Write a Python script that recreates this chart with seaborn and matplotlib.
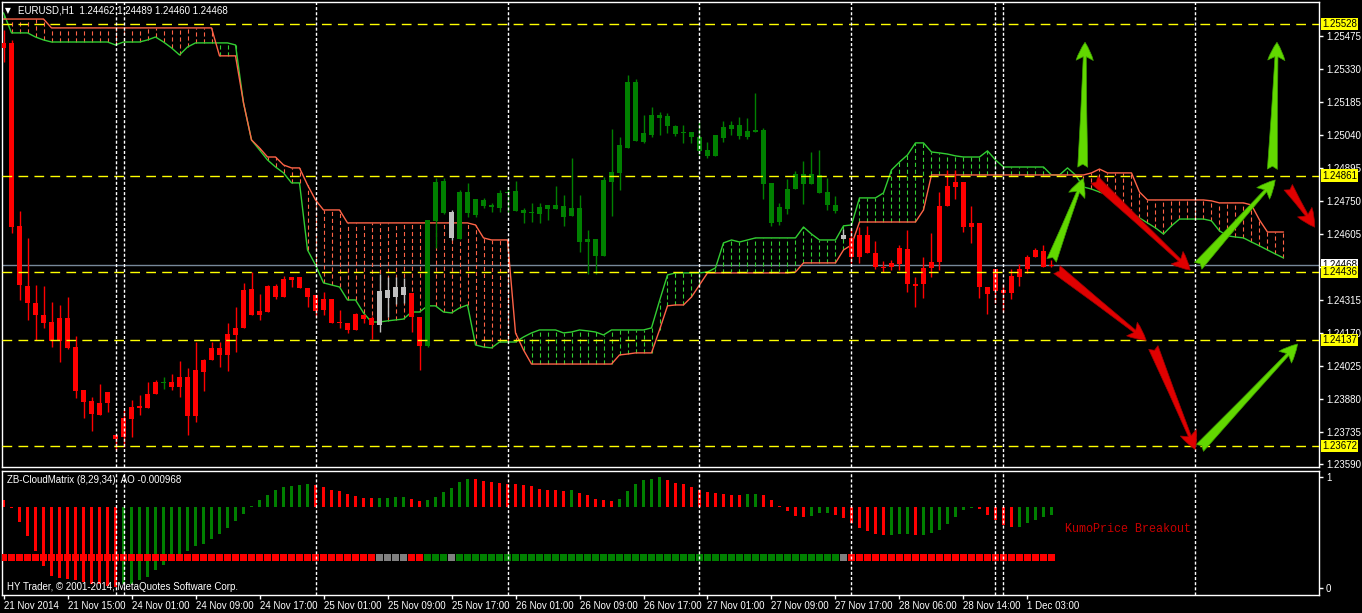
import numpy as np
import pandas as pd
import seaborn as sns
import matplotlib.pyplot as plt
from matplotlib.patches import FancyArrowPatch

# EURUSD H1 candles, bar 0 = leftmost bar
open_ = [1.25445, 1.25445, 1.24640, 1.24376, 1.24301, 1.24248, 1.24217, 1.24134, 1.24235, 1.24107,
         1.23918, 1.23870, 1.23808, 1.23861, 1.23720, 1.23711, 1.23790, 1.23839, 1.23839, 1.23900,
         1.23949, 1.23953, 1.23931, 1.23975, 1.23804, 1.23997, 1.24050, 1.24103, 1.24072, 1.24160,
         1.24191, 1.24362, 1.24248, 1.24261, 1.24376, 1.24327, 1.24402, 1.24415, 1.24367, 1.24336,
         1.24270, 1.24318, 1.24213, 1.24213, 1.24182, 1.24248, 1.24235, 1.24204, 1.24358, 1.24327,
         1.24371, 1.24345, 1.24239, 1.24112, 1.24662, 1.24838, 1.24701, 1.24582, 1.24789, 1.24688,
         1.24754, 1.24732, 1.24719, 1.24785, 1.24794, 1.24710, 1.24697, 1.24692, 1.24732, 1.24714,
         1.24728, 1.24684, 1.24719, 1.24569, 1.24582, 1.24508, 1.24833, 1.24873, 1.24983, 1.25273,
         1.25009, 1.25040, 1.25128, 1.25124, 1.25080, 1.25049, 1.25053, 1.25031, 1.24974, 1.24948,
         1.25027, 1.25066, 1.25084, 1.25031, 1.25053, 1.25062, 1.24829, 1.24657, 1.24714, 1.24802,
         1.24868, 1.24824, 1.24864, 1.24789, 1.24732, 1.24600, 1.24587, 1.24503, 1.24600, 1.24521,
         1.24459, 1.24459, 1.24472, 1.24538, 1.24384, 1.24384, 1.24455, 1.24481, 1.24728, 1.24811,
         1.24833, 1.24635, 1.24653, 1.24371, 1.24354, 1.24358, 1.24345, 1.24415, 1.24450, 1.24503,
         1.24530, 1.24462]
high = [1.25502, 1.25458, 1.24706, 1.24587, 1.24380, 1.24376, 1.24305, 1.24292, 1.24327, 1.24156,
        1.23918, 1.23887, 1.23944, 1.23909, 1.23720, 1.23830, 1.23874, 1.23896, 1.23953, 1.23962,
        1.23975, 1.23988, 1.24046, 1.24015, 1.24129, 1.24054, 1.24129, 1.24129, 1.24213, 1.24283,
        1.24389, 1.24437, 1.24340, 1.24380, 1.24384, 1.24420, 1.24415, 1.24415, 1.24367, 1.24336,
        1.24349, 1.24318, 1.24270, 1.24213, 1.24257, 1.24252, 1.24244, 1.24428, 1.24415, 1.24415,
        1.24411, 1.24345, 1.24239, 1.24666, 1.24851, 1.24851, 1.24710, 1.24798, 1.24829, 1.24758,
        1.24763, 1.24741, 1.24798, 1.24811, 1.24838, 1.24719, 1.24741, 1.24741, 1.24732, 1.24816,
        1.24776, 1.24939, 1.24776, 1.24622, 1.24582, 1.24855, 1.25066, 1.25031, 1.25304, 1.25286,
        1.25128, 1.25163, 1.25141, 1.25137, 1.25084, 1.25084, 1.25053, 1.25097, 1.25009, 1.25040,
        1.25102, 1.25102, 1.25119, 1.25115, 1.25225, 1.25071, 1.24829, 1.24741, 1.24846, 1.24882,
        1.24926, 1.24965, 1.24974, 1.24851, 1.24772, 1.24626, 1.24631, 1.24635, 1.24640, 1.24574,
        1.24486, 1.24490, 1.24556, 1.24622, 1.24415, 1.24503, 1.24609, 1.24789, 1.24886, 1.24886,
        1.24833, 1.24728, 1.24653, 1.24371, 1.24450, 1.24384, 1.24450, 1.24472, 1.24512, 1.24543,
        1.24556, 1.24489]
low = [1.25361, 1.24609, 1.24314, 1.24226, 1.24138, 1.24191, 1.24107, 1.24041, 1.24098, 1.23883,
       1.23795, 1.23738, 1.23808, 1.23821, 1.23654, 1.23667, 1.23711, 1.23808, 1.23839, 1.23900,
       1.23922, 1.23918, 1.23887, 1.23720, 1.23777, 1.23914, 1.24050, 1.24019, 1.24002, 1.24085,
       1.24191, 1.24248, 1.24226, 1.24261, 1.24318, 1.24327, 1.24371, 1.24367, 1.24283, 1.24239,
       1.24248, 1.24213, 1.24191, 1.24169, 1.24182, 1.24213, 1.24142, 1.24173, 1.24239, 1.24296,
       1.24301, 1.24173, 1.24006, 1.24107, 1.24543, 1.24692, 1.24578, 1.24582, 1.24679, 1.24679,
       1.24719, 1.24701, 1.24701, 1.24701, 1.24706, 1.24653, 1.24657, 1.24653, 1.24666, 1.24714,
       1.24640, 1.24684, 1.24525, 1.24428, 1.24428, 1.24508, 1.24684, 1.24798, 1.24983, 1.25014,
       1.25005, 1.25031, 1.25040, 1.25049, 1.25036, 1.25005, 1.25005, 1.24952, 1.24939, 1.24948,
       1.25009, 1.25040, 1.25022, 1.25022, 1.25053, 1.24758, 1.24640, 1.24644, 1.24692, 1.24802,
       1.24736, 1.24824, 1.24785, 1.24710, 1.24697, 1.24582, 1.24477, 1.24477, 1.24521, 1.24450,
       1.24437, 1.24446, 1.24446, 1.24349, 1.24283, 1.24323, 1.24415, 1.24446, 1.24728, 1.24758,
       1.24613, 1.24565, 1.24323, 1.24252, 1.24301, 1.24261, 1.24318, 1.24376, 1.24433, 1.24503,
       1.24459, 1.24460]
close = [1.25423, 1.24635, 1.24380, 1.24301, 1.24248, 1.24213, 1.24134, 1.24235, 1.24103, 1.23914,
         1.23865, 1.23812, 1.23861, 1.23909, 1.23702, 1.23795, 1.23843, 1.23848, 1.23900, 1.23953,
         1.23953, 1.23931, 1.23975, 1.23804, 1.24006, 1.24050, 1.24103, 1.24072, 1.24164, 1.24191,
         1.24358, 1.24248, 1.24266, 1.24376, 1.24327, 1.24406, 1.24415, 1.24367, 1.24327, 1.24266,
         1.24318, 1.24213, 1.24217, 1.24182, 1.24252, 1.24230, 1.24204, 1.24354, 1.24323, 1.24371,
         1.24336, 1.24239, 1.24112, 1.24666, 1.24833, 1.24697, 1.24587, 1.24789, 1.24697, 1.24758,
         1.24728, 1.24723, 1.24785, 1.24789, 1.24706, 1.24697, 1.24701, 1.24723, 1.24714, 1.24732,
         1.24679, 1.24719, 1.24569, 1.24582, 1.24508, 1.24842, 1.24877, 1.24996, 1.25273, 1.25014,
         1.25049, 1.25128, 1.25115, 1.25080, 1.25044, 1.25053, 1.25031, 1.24970, 1.24948, 1.25040,
         1.25075, 1.25084, 1.25036, 1.25058, 1.25062, 1.24824, 1.24653, 1.24723, 1.24802, 1.24868,
         1.24824, 1.24868, 1.24785, 1.24732, 1.24706, 1.24582, 1.24503, 1.24600, 1.24521, 1.24459,
         1.24455, 1.24477, 1.24543, 1.24384, 1.24376, 1.24455, 1.24481, 1.24728, 1.24816, 1.24833,
         1.24635, 1.24653, 1.24371, 1.24340, 1.24450, 1.24345, 1.24420, 1.24450, 1.24503, 1.24534,
         1.24459, 1.24468]

# CloudMatrix state per bar: r = bear, g = bull, n = neutral
state = ("rrrrrrrrrr" "rrrrrrrrrr" "rrrrrrrrrr" "rrrrrrrrrr" "rrrrrrrnnn"
         "nrrgggnggg" "gggggggggg" "gggggggggg" "gggggggggg" "gggggggggg"
         "gggggnrrrr" "rrrrrrrrrr" "rrrrrrrrrr" "rr")
candle_state = state[:20] + "g" + state[21:]

# Kumo (senkou span A / B), runs 29 bars past the last candle
span_a = [1.25577, 1.25489, 1.25489, 1.25489, 1.25471, 1.25458, 1.25449, 1.25449, 1.25449, 1.25449,
          1.25449, 1.25449, 1.25449, 1.25449, 1.25436, 1.25449, 1.25449, 1.25449, 1.25458, 1.25471,
          1.25449, 1.25423, 1.25392, 1.25427, 1.25445, 1.25445, 1.25445, 1.25445, 1.25445, 1.25436,
          1.25181, 1.25018, 1.24974, 1.24930, 1.24899, 1.24873, 1.24829, 1.24829, 1.24534, 1.24468,
          1.24389, 1.24380, 1.24371, 1.24314, 1.24314, 1.24257, 1.24217, 1.24217, 1.24222, 1.24226,
          1.24230, 1.24261, 1.24261, 1.24288, 1.24288, 1.24261, 1.24257, 1.24279, 1.24292, 1.24116,
          1.24107, 1.24103, 1.24129, 1.24129, 1.24129, 1.24151, 1.24169, 1.24182, 1.24182, 1.24182,
          1.24169, 1.24173, 1.24182, 1.24178, 1.24173, 1.24160, 1.24182, 1.24182, 1.24182, 1.24182,
          1.24182, 1.24191, 1.24310, 1.24424, 1.24433, 1.24433, 1.24433, 1.24433, 1.24437, 1.24455,
          1.24565, 1.24578, 1.24569, 1.24578, 1.24587, 1.24587, 1.24587, 1.24587, 1.24587, 1.24587,
          1.24635, 1.24604, 1.24578, 1.24578, 1.24578, 1.24640, 1.24644, 1.24763, 1.24763, 1.24763,
          1.24785, 1.24886, 1.24921, 1.24952, 1.25005, 1.25005, 1.24965, 1.24961, 1.24956, 1.24948,
          1.24943, 1.24943, 1.24943, 1.24970, 1.24930, 1.24899, 1.24899, 1.24899, 1.24899, 1.24899,
          1.24899, 1.24864, 1.24864, 1.24895, 1.24864, 1.24811, 1.24802, 1.24789, 1.24776, 1.24741,
          1.24710, 1.24697, 1.24675, 1.24653, 1.24631, 1.24604, 1.24640, 1.24670, 1.24670, 1.24670,
          1.24670, 1.24662, 1.24618, 1.24596, 1.24591, 1.24587, 1.24569, 1.24552, 1.24534, 1.24516,
          1.24499]
span_b = [1.25550, 1.25550, 1.25550, 1.25550, 1.25550, 1.25550, 1.25511, 1.25511, 1.25511, 1.25511,
          1.25511, 1.25511, 1.25511, 1.25511, 1.25511, 1.25511, 1.25511, 1.25511, 1.25511, 1.25511,
          1.25511, 1.25511, 1.25511, 1.25511, 1.25511, 1.25511, 1.25511, 1.25388, 1.25388, 1.25388,
          1.25181, 1.25018, 1.24983, 1.24943, 1.24943, 1.24908, 1.24895, 1.24895, 1.24820, 1.24754,
          1.24710, 1.24710, 1.24710, 1.24653, 1.24653, 1.24653, 1.24653, 1.24653, 1.24653, 1.24653,
          1.24653, 1.24653, 1.24653, 1.24653, 1.24653, 1.24653, 1.24653, 1.24653, 1.24653, 1.24644,
          1.24587, 1.24578, 1.24578, 1.24578, 1.24169, 1.24094, 1.24032, 1.24032, 1.24032, 1.24032,
          1.24032, 1.24032, 1.24032, 1.24032, 1.24032, 1.24032, 1.24032, 1.24072, 1.24076, 1.24081,
          1.24081, 1.24081, 1.24182, 1.24288, 1.24292, 1.24292, 1.24327, 1.24380, 1.24433, 1.24433,
          1.24433, 1.24433, 1.24433, 1.24433, 1.24433, 1.24433, 1.24433, 1.24433, 1.24433, 1.24437,
          1.24477, 1.24477, 1.24477, 1.24477, 1.24477, 1.24534, 1.24556, 1.24657, 1.24657, 1.24657,
          1.24657, 1.24657, 1.24657, 1.24657, 1.24657, 1.24710, 1.24864, 1.24864, 1.24864, 1.24864,
          1.24864, 1.24864, 1.24864, 1.24864, 1.24864, 1.24864, 1.24864, 1.24864, 1.24864, 1.24864,
          1.24864, 1.24864, 1.24864, 1.24864, 1.24864, 1.24864, 1.24873, 1.24890, 1.24873, 1.24873,
          1.24873, 1.24873, 1.24789, 1.24754, 1.24754, 1.24754, 1.24754, 1.24754, 1.24754, 1.24754,
          1.24754, 1.24750, 1.24741, 1.24741, 1.24741, 1.24741, 1.24732, 1.24666, 1.24613, 1.24613,
          1.24613]

# AO histogram of the ZB-CloudMatrix window and its bar colours
ao = [0.00077, -0.00012, -0.00174, -0.00341, -0.00511, -0.00685, -0.00801, -0.00824, -0.00840, -0.00851,
      -0.00871, -0.00890, -0.00898, -0.00917, -0.00929, -0.00898, -0.00890, -0.00851, -0.00813, -0.00735,
      -0.00670, -0.00608, -0.00542, -0.00511, -0.00457, -0.00433, -0.00375, -0.00310, -0.00244, -0.00163,
      -0.00085, 0.00008, 0.00077, 0.00143, 0.00194, 0.00232, 0.00244, 0.00259, 0.00263, 0.00252,
      0.00232, 0.00201, 0.00186, 0.00155, 0.00128, 0.00108, 0.00100, 0.00104, 0.00108, 0.00112,
      0.00116, 0.00097, 0.00070, 0.00085, 0.00116, 0.00174, 0.00221, 0.00290, 0.00329, 0.00321,
      0.00298, 0.00290, 0.00283, 0.00271, 0.00268, 0.00252, 0.00240, 0.00213, 0.00201, 0.00194,
      0.00182, 0.00194, 0.00166, 0.00135, 0.00089, 0.00077, 0.00066, 0.00097, 0.00182, 0.00271,
      0.00310, 0.00329, 0.00348, 0.00310, 0.00283, 0.00263, 0.00232, 0.00194, 0.00174, 0.00163,
      0.00147, 0.00145, 0.00135, 0.00147, 0.00155, 0.00135, 0.00077, 0.00008, -0.00046, -0.00104,
      -0.00116, -0.00104, -0.00070, -0.00068, -0.00097, -0.00128, -0.00186, -0.00244, -0.00279, -0.00310,
      -0.00329, -0.00321, -0.00310, -0.00308, -0.00329, -0.00325, -0.00302, -0.00271, -0.00194, -0.00116,
      -0.00039, -0.00012, -0.00023, -0.00097, -0.00155, -0.00213, -0.00232, -0.00228, -0.00186, -0.00155,
      -0.00116, -0.000968]
ao_state = ("rrrrrrrrrr" "rrrrrggggg" "gggggggggg" "gggggggggr" "rrrrrrrggg"
            "grrggggggr" "rrrrrrrrrr" "rgrrrrrggg" "gggrrrrrrr" "rrrggrrrrr"
            "rgggrrrrrr" "rgggrggggg" "ggrrrrrggg" "gg")

levels = [1.25528, 1.24861, 1.24436, 1.24137, 1.23672]
last_price = 1.24468
price_ticks = [1.25475, 1.25330, 1.25185, 1.25040, 1.24895, 1.24750, 1.24605,
               1.24460, 1.24315, 1.24170, 1.24025, 1.23880, 1.23735, 1.23590]
time_labels = ["21 Nov 2014", "21 Nov 15:00", "24 Nov 01:00", "24 Nov 09:00", "24 Nov 17:00",
               "25 Nov 01:00", "25 Nov 09:00", "25 Nov 17:00", "26 Nov 01:00", "26 Nov 09:00",
               "26 Nov 17:00", "27 Nov 01:00", "27 Nov 09:00", "27 Nov 17:00", "28 Nov 06:00",
               "28 Nov 14:00", "1 Dec 03:00"]
time_bars = list(range(0, 129, 8))
vline_bars = [14, 15, 39, 63, 87, 106, 124, 125, 149]

# hand drawn scenario arrows: (bar, price) tail -> tip
arrows_up = [((130.9, 1.24477), (135.1, 1.24860)), ((134.9, 1.24886), (135.2, 1.25460)),
             ((149.1, 1.24455), (159.2, 1.24851)), ((158.6, 1.24877), (159.2, 1.25460)),
             ((149.3, 1.23654), (162.0, 1.24129))]
arrows_down = [((136.1, 1.24851), (148.6, 1.24437)), ((131.4, 1.24455), (143.1, 1.24129)),
               ((143.6, 1.24116), (149.1, 1.23645)), ((160.4, 1.24820), (164.1, 1.24624))]

sns.set_theme(style="dark", rc={
    "figure.facecolor": "black", "axes.facecolor": "black", "axes.edgecolor": "white",
    "axes.grid": False, "text.color": "white", "xtick.color": "white", "ytick.color": "white",
    "lines.scale_dashes": False})
plt.rcParams['font.family'] = ['Liberation Sans', 'DejaVu Sans']

candle_cols = {'r': '#FF0000', 'g': '#008000', 'n': '#C0C0C0'}
square_cols = {'r': '#FF0000', 'g': '#008000', 'n': '#808080'}

df = pd.DataFrame({'open': open_, 'high': high, 'low': low, 'close': close})
df['bar'] = np.arange(len(df))
df['col'] = [candle_cols[s] for s in candle_state]
df['body_lo'] = df[['open', 'close']].min(axis=1)
df['body_h'] = (df['close'] - df['open']).abs().clip(lower=0.00004)

cloud = pd.DataFrame({'a': span_a, 'b': span_b})
cloud['bar'] = np.arange(len(cloud))
cloud['col'] = np.where(cloud['a'] > cloud['b'], '#32CD32', '#FF6347')

fig = plt.figure(figsize=(13.62, 6.13), dpi=100)
ax = fig.add_axes([2 / 1362, 1 - 467 / 613, 1317 / 1362, 465 / 613])
axh = fig.add_axes([2 / 1362, 18 / 613, 1317 / 1362, 124 / 613])   # AO histogram scale
axl = fig.add_axes([2 / 1362, 18 / 613, 1317 / 1362, 124 / 613])   # 0..1 window scale, on top
xlim = (-0.19, 164.44)

# ---- main price window
ax.axhline(last_price, color='#778899', lw=1, zorder=1)
ax.vlines(cloud['bar'], cloud[['a', 'b']].min(axis=1), cloud[['a', 'b']].max(axis=1),
          colors=cloud['col'], linestyles=(0, (3, 2)), lw=0.8, zorder=1)
sns.lineplot(x=cloud['bar'], y=cloud['a'], color='#32CD32', lw=1, estimator=None, ax=ax, zorder=2)
sns.lineplot(x=cloud['bar'], y=cloud['b'], color='#FF6347', lw=1, estimator=None, ax=ax, zorder=2)

ax.vlines(df['bar'], df['low'], df['high'], colors=df['col'], lw=1, zorder=3)
ax.bar(df['bar'], df['body_h'], bottom=df['body_lo'], width=0.6, color=df['col'], lw=0, zorder=3)

for lv in levels:
    ax.axhline(lv, color='#FFFF00', lw=1, ls=(0, (7, 4.5)), zorder=5)
for vb in vline_bars:
    ax.axvline(vb, color='white', lw=1, ls=(0, (2.2, 1.5)), zorder=6)
    axl.axvline(vb, color='white', lw=1, ls=(0, (2.2, 1.5)), zorder=6)

style = 'fancy,head_length=0.65,head_width=0.62,tail_width=0.36'
for tail, tip in arrows_up:
    ax.add_patch(FancyArrowPatch(tail, tip, arrowstyle=style, mutation_scale=20,
                                 fc='#62D800', ec='#3E9E00', lw=0.5, zorder=8))
for tail, tip in arrows_down:
    ax.add_patch(FancyArrowPatch(tail, tip, arrowstyle=style, mutation_scale=20,
                                 fc='#E00000', ec='#A00000', lw=0.5, zorder=8))

ax.set_xlim(xlim)
ax.set_ylim(1.23579, 1.25625)
ax.set_xticks([])
ax.set_yticks(price_ticks)
# the tick under the live price box is not labelled
ax.set_yticklabels(["" if p == 1.24460 else f"{p:.5f}" for p in price_ticks])
ax.yaxis.tick_right()
ax.tick_params(axis='y', right=True, left=False, length=3, width=1, pad=2, labelsize=7, colors='white')
ax.set_xlabel("")
ax.set_ylabel("")

ytr = ax.get_yaxis_transform()
ax.text(1.0025, last_price, f"{last_price:.5f}", transform=ytr, ha='left', va='center', fontsize=7,
        color='black', bbox=dict(boxstyle='square,pad=0.12', fc='white', ec='none'), zorder=10, clip_on=False)
for lv in levels:
    ax.text(1.0025, lv, f"{lv:.5f}", transform=ytr, ha='left', va='center', fontsize=7, color='black',
            bbox=dict(boxstyle='square,pad=0.12', fc='#FFFF00', ec='none'), zorder=11, clip_on=False)

ax.text(0.0025, 0.981, "\u25bc", transform=ax.transAxes, fontsize=5.5, family='DejaVu Sans',
        ha='left', va='center', color='white')
ax.text(0.0121, 0.981, "EURUSD,H1  1.24462 1.24489 1.24460 1.24468", transform=ax.transAxes,
        fontsize=7, ha='left', va='center', color='white')

# ---- indicator window
axh.bar(df['bar'], ao, width=0.42, color=[square_cols[s] for s in ao_state], lw=0, zorder=3)
axh.set_xlim(xlim)
axh.set_ylim(-0.010208, 0.004176)
axh.set_xticks([])
axh.set_yticks([])
for sp in axh.spines.values():
    sp.set_visible(False)

sns.scatterplot(x=df['bar'], y=np.full(len(df), 0.275), hue=list(state), palette=square_cols,
                marker='s', s=20, linewidth=0, legend=False, ax=axl, zorder=4)
axl.patch.set_visible(False)
axl.set_xlim(xlim)
axl.set_ylim(-0.063, 1.054)
axl.set_yticks([0, 1])
axl.set_yticklabels(["0", "1"])
axl.yaxis.tick_right()
axl.set_xticks(time_bars)
axl.set_xticklabels(time_labels, ha='left')
axl.tick_params(axis='y', right=True, left=False, length=3, width=1, pad=2, labelsize=7, colors='white')
axl.tick_params(axis='x', bottom=True, length=3, width=1, pad=1, labelsize=7, colors='white')
axl.set_xlabel("")
axl.set_ylabel("")

axl.text(0.0038, 0.927, "ZB-CloudMatrix (8,29,34)  AO -0.000968", transform=axl.transAxes,
         fontsize=7, ha='left', va='center', color='white')
axl.text(0.0038, 0.065, "HY Trader, \u00a9 2001-2014, MetaQuotes Software Corp.", transform=axl.transAxes,
         fontsize=7, ha='left', va='center', color='white')
axl.text(132.7, 0.53, "KumoPrice Breakout", fontsize=8.5, family='Liberation Mono',
         ha='left', va='center', color='#C80000')

for a in (ax, axl):
    for sp in a.spines.values():
        sp.set_color('white')
        sp.set_linewidth(1)

fig.savefig("out.png", dpi=100, facecolor='black')
